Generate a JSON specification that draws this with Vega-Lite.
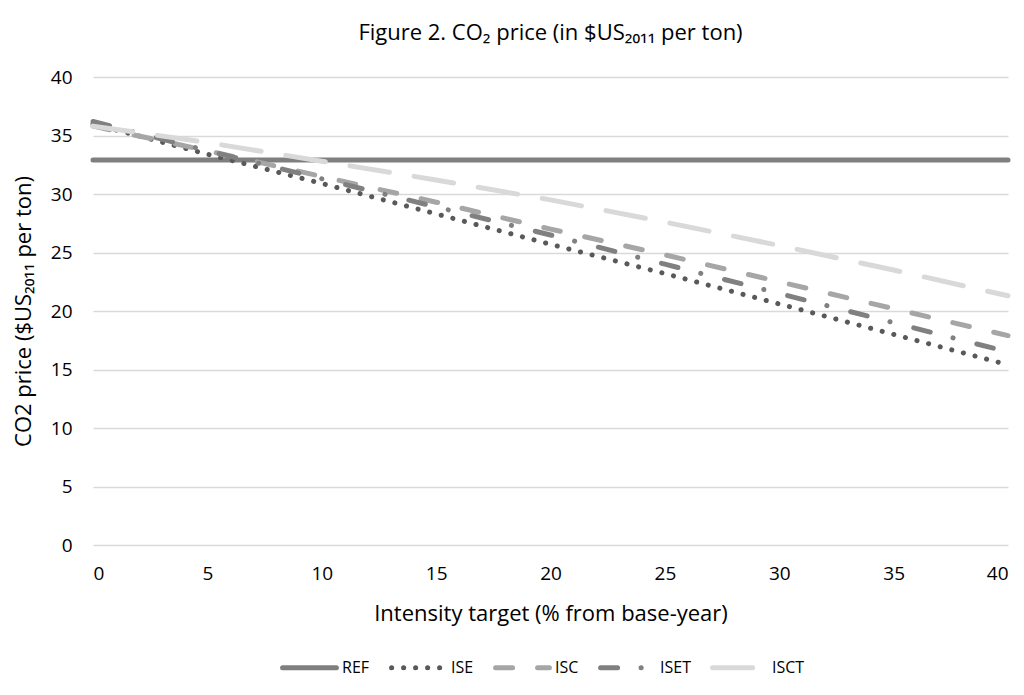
{
  "$schema": "https://vega.github.io/schema/vega-lite/v6.json",
  "width": 915,
  "height": 468,
  "autosize": {"type": "none"},
  "padding": {"left": 93, "top": 77, "right": 16, "bottom": 150},
  "background": "white",
  "title": {
    "text": "Figure 2. CO₂ price (in $US₂₀₁₁ per ton)",
    "anchor": "middle",
    "fontSize": 22,
    "font": "Open Sans",
    "fontWeight": "normal",
    "color": "#000000",
    "offset": 23
  },
  "config": {
    "view": {"stroke": null},
    "font": "Open Sans"
  },
  "data": {
    "values": [
      {"target": 0, "scenario": "REF", "price": 32.9},
      {"target": 40, "scenario": "REF", "price": 32.9},
      {"target": 0, "scenario": "ISE", "price": 36.0},
      {"target": 5, "scenario": "ISE", "price": 33.4},
      {"target": 10, "scenario": "ISE", "price": 30.9},
      {"target": 15, "scenario": "ISE", "price": 28.3},
      {"target": 20, "scenario": "ISE", "price": 25.7},
      {"target": 25, "scenario": "ISE", "price": 23.2},
      {"target": 30, "scenario": "ISE", "price": 20.6},
      {"target": 35, "scenario": "ISE", "price": 18.0},
      {"target": 40, "scenario": "ISE", "price": 15.4},
      {"target": 0, "scenario": "ISC", "price": 35.8},
      {"target": 5, "scenario": "ISC", "price": 33.7},
      {"target": 10, "scenario": "ISC", "price": 31.5},
      {"target": 15, "scenario": "ISC", "price": 29.3},
      {"target": 20, "scenario": "ISC", "price": 27.0},
      {"target": 25, "scenario": "ISC", "price": 24.8},
      {"target": 30, "scenario": "ISC", "price": 22.5},
      {"target": 35, "scenario": "ISC", "price": 20.2},
      {"target": 40, "scenario": "ISC", "price": 17.9},
      {"target": 0, "scenario": "ISET", "price": 36.2},
      {"target": 5, "scenario": "ISET", "price": 33.7},
      {"target": 10, "scenario": "ISET", "price": 31.3},
      {"target": 15, "scenario": "ISET", "price": 28.9},
      {"target": 20, "scenario": "ISET", "price": 26.5},
      {"target": 25, "scenario": "ISET", "price": 24.0},
      {"target": 30, "scenario": "ISET", "price": 21.5},
      {"target": 35, "scenario": "ISET", "price": 19.0},
      {"target": 40, "scenario": "ISET", "price": 16.5},
      {"target": 0, "scenario": "ISCT", "price": 35.8},
      {"target": 5, "scenario": "ISCT", "price": 34.4},
      {"target": 10, "scenario": "ISCT", "price": 32.8},
      {"target": 15, "scenario": "ISCT", "price": 31.2},
      {"target": 20, "scenario": "ISCT", "price": 29.5},
      {"target": 25, "scenario": "ISCT", "price": 27.6},
      {"target": 30, "scenario": "ISCT", "price": 25.6},
      {"target": 35, "scenario": "ISCT", "price": 23.5},
      {"target": 40, "scenario": "ISCT", "price": 21.3}
    ]
  },
  "mark": {"type": "line", "strokeWidth": 5, "strokeCap": "round"},
  "encoding": {
    "x": {
      "field": "target",
      "type": "quantitative",
      "scale": {"domain": [0, 40], "nice": false},
      "axis": {
        "title": "Intensity target (% from base-year)",
        "values": [0, 5, 10, 15, 20, 25, 30, 35, 40],
        "grid": false,
        "domain": false,
        "ticks": false,
        "labelFontSize": 19,
        "labelColor": "#000000",
        "labelPadding": 19,
        "titleFontSize": 22,
        "titleFontWeight": "normal",
        "titleColor": "#000000",
        "titlePadding": 20
      }
    },
    "y": {
      "field": "price",
      "type": "quantitative",
      "scale": {"domain": [0, 40], "nice": false},
      "axis": {
        "title": "CO2 price ($US₂₀₁₁ per ton)",
        "values": [0, 5, 10, 15, 20, 25, 30, 35, 40],
        "grid": true,
        "gridColor": "#d9d9d9",
        "gridWidth": 1.5,
        "domain": false,
        "ticks": false,
        "labelFontSize": 19,
        "labelColor": "#000000",
        "labelPadding": 21,
        "titleFontSize": 22,
        "titleFontWeight": "normal",
        "titleColor": "#000000",
        "titlePadding": 15
      }
    },
    "color": {
      "field": "scenario",
      "type": "nominal",
      "scale": {
        "domain": ["REF", "ISE", "ISC", "ISET", "ISCT"],
        "range": ["#7f7f7f", "#595959", "#a6a6a6", "#808080", "#d9d9d9"]
      },
      "legend": {
        "title": null,
        "orient": "none",
        "legendX": 187,
        "legendY": 561,
        "direction": "horizontal",
        "symbolType": "stroke",
        "symbolSize": 2900,
        "symbolStrokeWidth": 5,
        "labelFontSize": 16,
        "labelColor": "#000000",
        "columnPadding": 11,
        "labelOffset": 3,
        "encode": {"symbols": {"update": {"strokeCap": {"value": "round"}}}}
      }
    },
    "strokeDash": {
      "field": "scenario",
      "type": "nominal",
      "scale": {
        "domain": ["REF", "ISE", "ISC", "ISET", "ISCT"],
        "range": [[1, 0], [0.1, 11.9], [17, 25], [17, 23.5, 0.1, 24.5], [40, 25]]
      },
      "legend": null
    },
    "order": {"field": "target", "type": "quantitative"}
  }
}
